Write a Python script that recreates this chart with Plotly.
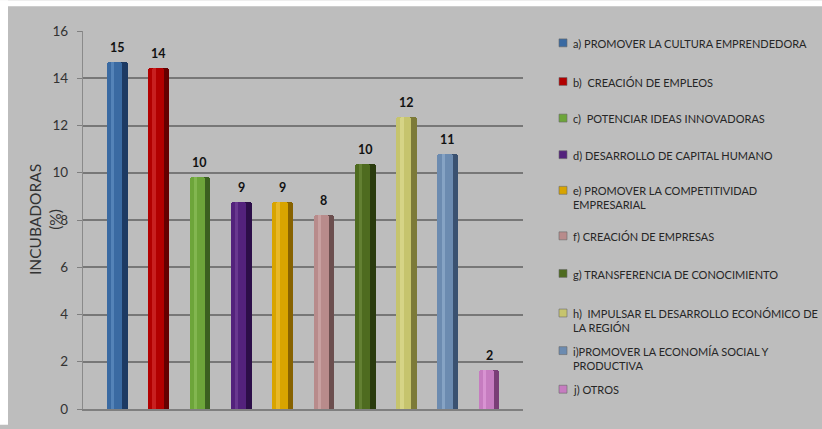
import plotly.graph_objects as go

# ---- data -----------------------------------------------------------------
categories = ["a", "b", "c", "d", "e", "f", "g", "h", "i", "j"]
legend_labels = [
    "a) PROMOVER LA CULTURA EMPRENDEDORA",
    "b)  CREACIÓN DE EMPLEOS",
    "c)  POTENCIAR IDEAS INNOVADORAS",
    "d) DESARROLLO DE CAPITAL HUMANO",
    "e) PROMOVER LA COMPETITIVIDAD<br>EMPRESARIAL",
    "f) CREACIÓN DE EMPRESAS",
    "g) TRANSFERENCIA DE CONOCIMIENTO",
    "h)  IMPULSAR EL DESARROLLO ECONÓMICO DE<br>LA REGIÓN",
    "i)PROMOVER LA ECONOMÍA SOCIAL Y<br>PRODUCTIVA",
    "j) OTROS",
]
values = [14.7, 14.45, 9.8, 8.77, 8.77, 8.22, 10.36, 12.34, 10.78, 1.66]
y_title = "INCUBADORAS<br>(%)"

# cylinder shading: edge (dark), body, highlight
dark_colors = ["#1d3a63", "#650000", "#3b6020", "#2c0e48", "#876200",
               "#6b4e4e", "#2a3b0e", "#7c7a38", "#3a5170", "#7a3e76"]
body_colors = ["#3a6aa2", "#b20000", "#6da53a", "#53227c", "#d8a400",
               "#b88b8b", "#4e6b1f", "#c6c46d", "#6c8bb0", "#c67cc0"]
light_colors = ["#5483b8", "#c82020", "#82b650", "#69388f", "#e8b828",
                "#c8a0a0", "#638032", "#d6d486", "#86a3c4", "#d893d2"]

W, H = 822, 429
ML, MR, MT, MB = 83, 299, 31, 16
PW, PH = W - ML - MR, H - MT - MB


def px_x(x):
    return (x - ML) / PW


def px_y(y):
    return (H - MB - y) / PH


fig = go.Figure()

layers = [
    (dark_colors, -0.25, 0.50),
    (body_colors, -0.25, 0.37),
    (light_colors, -0.15, 0.08),
]
for colors, off, wid in layers:
    fig.add_trace(go.Bar(
        x=categories, y=values,
        marker=dict(color=colors, line=dict(width=0), cornerradius=3),
        offset=off, width=wid, showlegend=False, hoverinfo="skip",
    ))

# value labels above each bar
for c, v in zip(categories, values):
    fig.add_annotation(
        x=c, y=v, text=f"<b>{v:.0f}</b>", showarrow=False, yanchor="bottom",
        yshift=5, font=dict(family="Lato", size=12.5, color="#111111"),
    )

# legend: coloured squares plus labels
legend_y = [43, 82, 119, 156, 192, 238, 276, 316, 354, 393]
for lab, col, y in zip(legend_labels, body_colors, legend_y):
    fig.add_shape(
        type="rect", xref="paper", yref="paper",
        x0=px_x(559), x1=px_x(567), y0=px_y(y + 4), y1=px_y(y - 4),
        fillcolor=col, line=dict(color="#6a6a6a", width=0.6),
    )
    fig.add_annotation(
        xref="paper", yref="paper", x=px_x(571), y=px_y(y - 8),
        xanchor="left", yanchor="top", align="left", showarrow=False,
        text=lab, font=dict(family="Lato", size=11, color="#262626"),
    )

# rotated y-axis title
fig.add_annotation(
    xref="paper", yref="paper", x=px_x(45), y=0.5,
    xanchor="center", yanchor="middle", textangle=-90, showarrow=False,
    text=y_title, font=dict(family="Lato", size=15.5, color="#333333"),
)

# white margin strips along the top and left edges
for x0, x1, y0, y1 in [(0, 8, 0, H), (0, W, 0, 6)]:
    fig.add_shape(
        type="rect", xref="paper", yref="paper", layer="above",
        x0=px_x(x0), x1=px_x(x1), y0=px_y(y1), y1=px_y(y0),
        fillcolor="white", line=dict(width=0),
    )

fig.update_layout(
    width=W, height=H,
    margin=dict(l=ML, r=MR, t=MT, b=MB, pad=0),
    paper_bgcolor="#bdbdbd", plot_bgcolor="#bdbdbd",
    barmode="overlay", bargap=0,
    font=dict(family="Lato", color="#333333"),
    xaxis=dict(
        range=[-0.83, 9.82], showticklabels=False, ticks="",
        showgrid=False, showline=True, linecolor="#7f7f7f", linewidth=1.5,
        zeroline=False,
    ),
    yaxis=dict(
        range=[0, 16], dtick=2, tickfont=dict(size=13.5, color="#333333"),
        ticks="outside", ticklen=5, tickcolor="#7f7f7f", tickwidth=1.3,
        ticklabelstandoff=6,
        showgrid=True, gridcolor="#777777", gridwidth=1.5,
        showline=True, linecolor="#8a8a8a", linewidth=1.3, zeroline=False,
    ),
)

fig.write_html("out.html")
